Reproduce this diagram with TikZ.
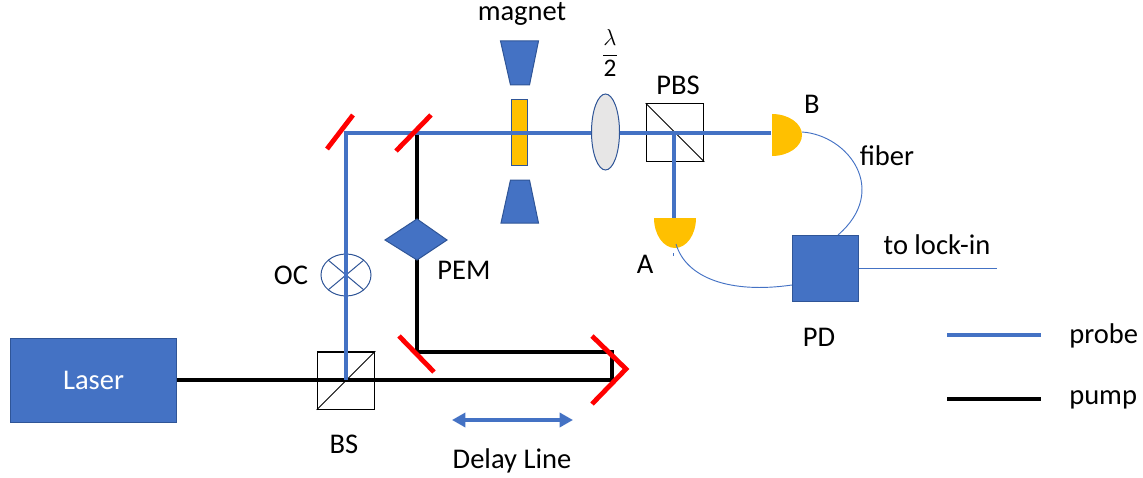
\documentclass[tikz,border=0pt]{standalone}
\usepackage{fontspec}
\setmainfont{Carlito}
\usetikzlibrary{arrows.meta}
\definecolor{bluefill}{HTML}{4472C4}
\definecolor{blueedge}{HTML}{2F5597}
\definecolor{amber}{HTML}{FFC000}
\definecolor{lensgrey}{HTML}{E7E6E6}
\tikzset{
  probebeam/.style={draw=bluefill,line width=3.6pt},
  pumpbeam/.style={draw=black,line width=3.6pt},
  mirror/.style={draw=red,line width=3.6pt},
  thinfiber/.style={draw=bluefill,line width=0.7pt},
  txt/.style={font=\fontsize{21.4}{25}\selectfont,text=black,inner sep=0pt},
  cube/.style={draw=black,line width=1pt,fill=white,minimum size=43pt,inner sep=0pt,shape=rectangle},
  solid block/.style={draw=blueedge,line width=0.75pt,fill=bluefill},
}
\begin{document}
\begin{tikzpicture}[x=0.75pt,y=-0.75pt]
\useasboundingbox (0,0) rectangle (1143,478);
% coordinates
\coordinate (laserout) at (178,380);
\coordinate (bsc) at (346,380);
\coordinate (m1c) at (346,133);
\coordinate (m2c) at (417,133);
\coordinate (m3c) at (417,352);
\coordinate (retroA) at (612,380);
\coordinate (retroB) at (612,352);
\coordinate (pbsc) at (674,133);
\coordinate (Bin) at (771,133);
\coordinate (Ain) at (674,219);
\coordinate (lockend) at (997,268);
\coordinate (k1a) at (947,335);
\coordinate (k1b) at (1041,335);
\coordinate (k2a) at (947,399);
\coordinate (k2b) at (1041,399);
\coordinate (dla) at (452,420);
\coordinate (dlb) at (573,420);
\coordinate (m1a) at (327,149);
\coordinate (m1b) at (353,115);
\coordinate (m2a) at (396,151);
\coordinate (m2b) at (431,115);
\coordinate (m3a) at (399,336);
\coordinate (m3b) at (434,372);
\coordinate (r1) at (592,336);
\coordinate (r2) at (626,369);
\coordinate (r3) at (592,404);
\coordinate (Bfib) at (802,132);
\coordinate (Afib) at (676,244);
\coordinate (tk1) at (673.5,253);
\coordinate (tk2) at (673.5,256);
% boxes behind beams
\node[solid block,minimum width=125pt,minimum height=63pt,inner sep=0pt,text=white,font=\fontsize{21.4}{25}\selectfont] (laser) at (93.5,380.5) {Laser};
\node[cube] (bs) at (346,380.5) {};
\draw[line width=0.75pt] (bs.south west) -- (bs.north east);
\node[cube] (pbs) at (675,132.5) {};
\draw[line width=0.75pt] (pbs.north west) -- (pbs.south east);
\node[draw=blueedge,line width=0.75pt,fill=amber,minimum width=11.5pt,minimum height=50pt,inner sep=0pt] (sample) at (519.5,132.5) {};
\draw[draw=blueedge,line width=0.75pt] (346,275) ellipse (25 and 21);
\draw[draw=blueedge,line width=0.75pt] (328.3,260.2) -- (363.7,289.8) (363.7,260.2) -- (328.3,289.8);
% beams
\draw[pumpbeam] (laser.east |- laserout) -- (retroA) -- (retroB) -- (m3c) -- (m2c);
\draw[probebeam] (bsc) -- (m1c) -- (pbsc) -- (Bin);
\draw[probebeam] (pbsc) -- (Ain);
% optics on top
\draw[draw=blueedge,line width=0.75pt,fill=lensgrey] (605.5,132) ellipse (14 and 38);
\fill[solid block] (417,219) -- (447,240) -- (417,260) -- (385,240) -- cycle;
\fill[solid block] (500.5,41) -- (538.5,41) -- (529.5,85) -- (510.5,85) -- cycle;
\fill[solid block] (510.5,180) -- (529.5,180) -- (538.5,223) -- (501,223) -- cycle;
\draw[mirror] (m1a) -- (m1b);
\draw[mirror] (m2a) -- (m2b);
\draw[mirror] (m3a) -- (m3b);
\draw[mirror,line join=miter] (r1) -- (r2) -- (r3);
% detectors
\fill[amber] (772,114) arc[start angle=-90,end angle=90,x radius=30,y radius=21] -- cycle;
\fill[amber] (654,218) arc[start angle=180,end angle=0,x radius=21,y radius=30] -- cycle;
\node[solid block,minimum size=50pt,inner sep=0pt] (pd) at (825.5,268.5) {};
% fibres
\draw[thinfiber] (Bfib) .. controls (848,135) and (890,190) .. (838,235);
\draw[thinfiber] (Afib) .. controls (686,278) and (730,294) .. (792,285);
\draw[thinfiber] (tk1) -- (tk2);
\draw[thinfiber] (pd.east |- lockend) -- (lockend);
% legend, delay line
\draw[probebeam] (k1a) -- (k1b);
\draw[pumpbeam] (k2a) -- (k2b);
\draw[draw=bluefill,line width=3pt,{Triangle[length=10pt,width=10.5pt]}-{Triangle[length=10pt,width=10.5pt]}] (dla) -- (dlb);
% labels
\node[txt,anchor=base] (tmagnet) at (522,20.5) {magnet};
\node[txt,font=\fontsize{19}{22}\selectfont] (tlam) at (610,53) {$\displaystyle\frac{\lambda}{\mathrm{2}}$};
\node[txt] (tpbs) at (678,85) {PBS};
\node[txt] (tb) at (812,104) {B};
\node[txt] (tfiber) at (887,156) {fiber};
\node[txt] (tlock) at (937,245) {to lock-in};
\node[txt] (ta) at (645,264) {A};
\node[txt] (tpd) at (819,337) {PD};
\node[txt] (toc) at (291,275) {OC};
\node[txt] (tpem) at (464,270) {PEM};
\node[txt] (tbs) at (344,444) {BS};
\node[txt] (tdelay) at (512,461) {Delay Line};
\node[txt,anchor=west] (tprobe) at (1069,336) {probe};
\node[txt,anchor=west] (tpump) at (1069,400) {pump};
\end{tikzpicture}
\end{document}
